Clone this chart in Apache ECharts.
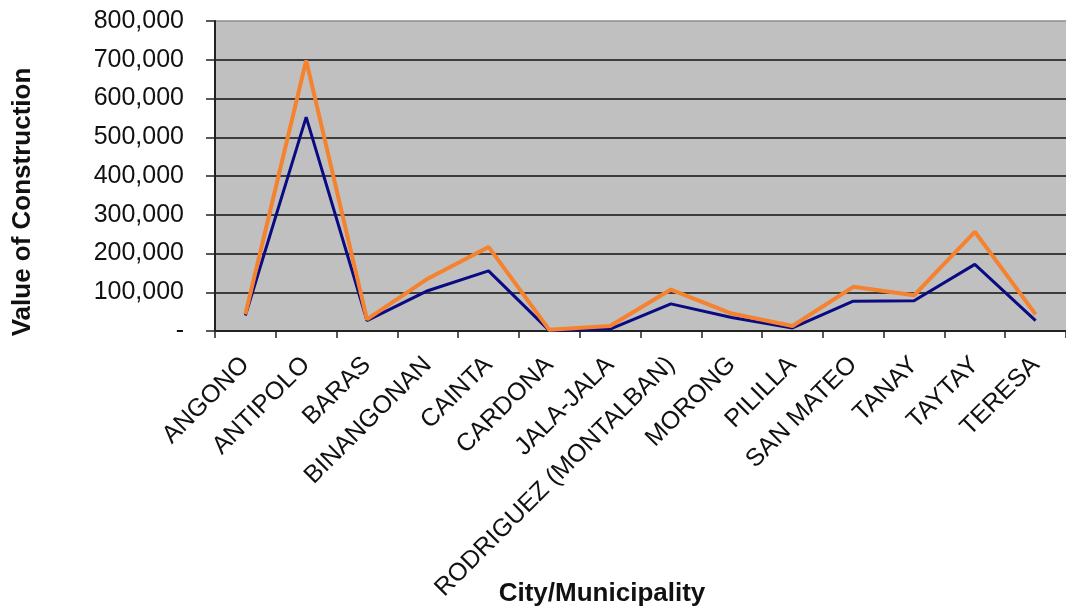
<!DOCTYPE html>
<html>
<head>
<meta charset="utf-8">
<script src="https://cdn.jsdelivr.net/npm/echarts@6/dist/echarts.min.js"></script>
<style>
  html, body { margin: 0; padding: 0; background: #ffffff; }
  #chart { width: 1066px; height: 607px; }
</style>
</head>
<body>
<div id="chart"></div>
<script>
// Municipalities along the category axis
const municipalities = [
  'ANGONO', 'ANTIPOLO', 'BARAS', 'BINANGONAN', 'CAINTA', 'CARDONA', 'JALA-JALA',
  'RODRIGUEZ (MONTALBAN)', 'MORONG', 'PILILLA', 'SAN MATEO', 'TANAY', 'TAYTAY', 'TERESA'
];

// Value of construction, two series
const valuesNavy = [40000, 552000, 27000, 104000, 155000, 1000, 5000, 70000, 35000, 8000, 77000, 78000, 172000, 27000];
const valuesOrange = [43000, 698000, 30000, 135000, 217000, 3000, 13000, 107000, 45000, 13000, 114000, 92000, 256000, 43000];

// Value axis ticks
const yTicks = [0, 100000, 200000, 300000, 400000, 500000, 600000, 700000, 800000];

const axisTitleY = 'Value of Construction';
const axisTitleX = 'City/Municipality';

const FONT = '"Liberation Sans", Arial, sans-serif';

const chart = echarts.init(document.getElementById('chart'), null, { renderer: 'canvas' });

const splitColors = yTicks.map((t, i) => (i === yTicks.length - 1 ? '#8c8c8c' : '#111'));

chart.setOption({
  animation: false,
  backgroundColor: '#ffffff',
  grid: {
    left: 215, top: 21, right: -10, bottom: 276,
    show: true,
    backgroundColor: '#c0c0c0',
    borderWidth: 0
  },
  xAxis: {
    type: 'category',
    data: municipalities,
    boundaryGap: true,
    axisLine: { show: true, lineStyle: { color: '#222', width: 2 } },
    axisTick: { show: true, length: 7, lineStyle: { color: '#222', width: 1.5 } },
    axisLabel: {
      interval: 0,
      rotate: 45,
      margin: 30,
      color: '#111',
      fontFamily: FONT,
      fontSize: 25
    },
    splitLine: { show: false }
  },
  yAxis: {
    type: 'value',
    min: yTicks[0],
    max: yTicks[yTicks.length - 1],
    interval: yTicks[1] - yTicks[0],
    axisLine: { show: true, lineStyle: { color: '#222', width: 2 } },
    axisTick: { show: true, length: 9, lineStyle: { color: '#222', width: 1.5 } },
    axisLabel: {
      margin: 31,
      color: '#111',
      fontFamily: FONT,
      fontSize: 25,
      formatter: v => (v === 0 ? '-' : v.toLocaleString('en-US'))
    },
    splitLine: { show: true, lineStyle: { color: splitColors, width: 1.5 } }
  },
  graphic: [
    {
      type: 'text',
      x: 23, y: 202,
      rotation: Math.PI / 2,
      style: {
        text: axisTitleY,
        fontFamily: FONT,
        fontWeight: 'bold',
        fontSize: 26,
        fill: '#111',
        textAlign: 'center',
        textVerticalAlign: 'middle'
      }
    },
    {
      type: 'text',
      x: 602, y: 594,
      style: {
        text: axisTitleX,
        fontFamily: FONT,
        fontWeight: 'bold',
        fontSize: 26,
        fill: '#111',
        textAlign: 'center',
        textVerticalAlign: 'middle'
      }
    }
  ],
  series: [
    {
      name: 'Navy',
      type: 'line',
      data: valuesNavy,
      symbol: 'none',
      lineStyle: { color: '#0a0a82', width: 3 },
      itemStyle: { color: '#0a0a82' },
      z: 3
    },
    {
      name: 'Orange',
      type: 'line',
      data: valuesOrange,
      symbol: 'none',
      lineStyle: { color: '#f5822e', width: 4 },
      itemStyle: { color: '#f5822e' },
      z: 4
    }
  ]
});
</script>
</body>
</html>
